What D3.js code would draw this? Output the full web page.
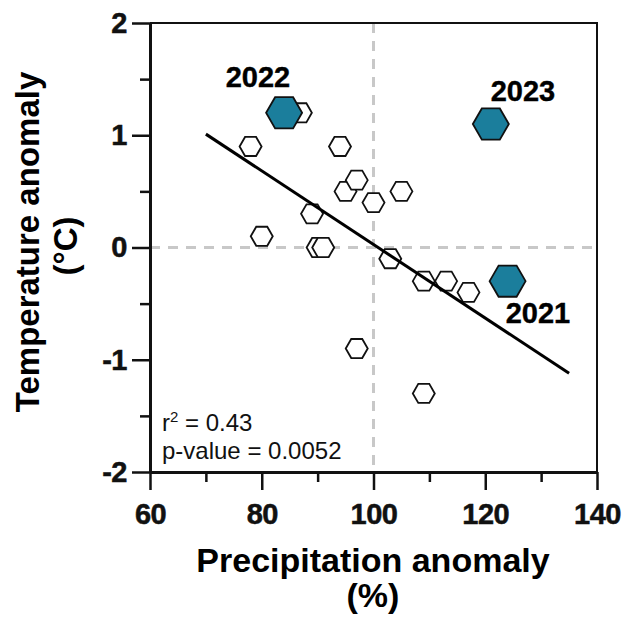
<!DOCTYPE html>
<html>
<head>
<meta charset="utf-8">
<script src="https://cdn.jsdelivr.net/npm/d3@7"></script>
<style>
  body { margin: 0; background: #fff; }
  svg { display: block; font-family: "Liberation Sans", Arial, sans-serif; }
</style>
</head>
<body>
<svg id="chart" width="624" height="618"></svg>
<script>
// open hexagons: other years (precip %, temp °C)
const otherPrecip = [78, 80, 87, 89, 90, 91, 94, 95, 97, 100, 105, 103, 109, 113, 117, 97, 109];
const otherTemp   = [0.9, 0.1, 1.2, 0.3, 0, 0, 0.9, 0.5, 0.6, 0.4, 0.5, -0.1, -0.3, -0.3, -0.4, -0.9, -1.3];

// highlighted years
const keyYears  = ["2022", "2023", "2021"];
const keyPrecip = [84, 121, 124];
const keyTemp   = [1.2, 1.1, -0.3];

// regression fit end points
const fitPrecip = [70, 135];
const fitTemp   = [1.01, -1.12];

const xTicks = [60, 80, 100, 120, 140];
const xMinor = [70, 90, 110, 130];
const yTicks = [-2, -1, 0, 1, 2];
const yMinor = [-1.5, -0.5, 0.5, 1.5];

const svg = d3.select("#chart");
const x = d3.scaleLinear().domain([60, 140]).range([150, 597]);
const y = d3.scaleLinear().domain([-2, 2]).range([472, 23]);

// flat-topped hexagon around the origin
function hexPath(r) {
    const pts = d3.range(6).map(i => [r * Math.cos(i * Math.PI / 3), r * Math.sin(i * Math.PI / 3)]);
    return d3.line()(pts) + "Z";
}

// reference lines
svg.append("line")
    .attr("x1", x(100)).attr("x2", x(100)).attr("y1", y(2)).attr("y2", y(-2))
    .attr("stroke", "#c8c8c8").attr("stroke-width", 3).attr("stroke-dasharray", "10,8");
svg.append("line")
    .attr("x1", x(60)).attr("x2", x(140)).attr("y1", y(0)).attr("y2", y(0))
    .attr("stroke", "#c8c8c8").attr("stroke-width", 3).attr("stroke-dasharray", "10,8");

// frame top/right
svg.append("path")
    .attr("d", `M${x(60)},${y(2)}H${x(140)}V${y(-2)}`)
    .attr("fill", "none").attr("stroke", "#111").attr("stroke-width", 2);

// open points
svg.append("g").selectAll("path").data(otherPrecip).enter()
    .append("path")
    .attr("d", hexPath(11))
    .attr("transform", (d, i) => `translate(${x(d)},${y(otherTemp[i])})`)
    .attr("fill", "#fff").attr("stroke", "#111").attr("stroke-width", 1.8);

// fit line
svg.append("line")
    .attr("x1", x(fitPrecip[0])).attr("y1", y(fitTemp[0]))
    .attr("x2", x(fitPrecip[1])).attr("y2", y(fitTemp[1]))
    .attr("stroke", "#000").attr("stroke-width", 3);

// highlighted years
svg.append("g").selectAll("path").data(keyPrecip).enter()
    .append("path")
    .attr("d", hexPath(18))
    .attr("transform", (d, i) => `translate(${x(d)},${y(keyTemp[i])})`)
    .attr("fill", "#1b7e9c").attr("stroke", "#111").attr("stroke-width", 1.8);

const labelPos = [[258, 87], [523, 101], [538, 323]];
svg.append("g").selectAll("text").data(keyYears).enter()
    .append("text")
    .attr("x", (d, i) => labelPos[i][0]).attr("y", (d, i) => labelPos[i][1])
    .attr("text-anchor", "middle")
    .style("font-size", "29px").style("font-weight", "700")
    .attr("stroke", "#000").attr("stroke-width", 0.4)
    .text(d => d);

// stats
const r2 = svg.append("text").attr("x", 162).attr("y", 431)
    .style("font-size", "24px").attr("fill", "#111");
r2.append("tspan").text("r");
r2.append("tspan").attr("dy", -9).style("font-size", "15px").text("2");
r2.append("tspan").attr("dy", 9).text(" = 0.43");
svg.append("text").attr("x", 162).attr("y", 459)
    .style("font-size", "24px").attr("fill", "#111")
    .text("p-value = 0.0052");

// axes
const fmt = d => String(d);
svg.append("g").attr("transform", `translate(0,${y(-2)})`)
    .call(d3.axisBottom(x).tickValues(xTicks).tickFormat(fmt).tickSize(18).tickSizeOuter(0).tickPadding(13));
svg.append("g").attr("transform", `translate(0,${y(-2)})`)
    .call(d3.axisBottom(x).tickValues(xMinor).tickSize(10).tickFormat(""))
    .call(g => g.select(".domain").remove());
svg.append("g").attr("transform", `translate(${x(60)},0)`)
    .call(d3.axisLeft(y).tickValues(yTicks).tickFormat(fmt).tickSize(18).tickSizeOuter(0).tickPadding(5));
svg.append("g").attr("transform", `translate(${x(60)},0)`)
    .call(d3.axisLeft(y).tickValues(yMinor).tickSize(10).tickFormat(""))
    .call(g => g.select(".domain").remove());

svg.selectAll(".domain").attr("stroke", "#111").attr("stroke-width", 3);
svg.selectAll(".tick line").attr("stroke", "#111").attr("stroke-width", 2.5);
svg.selectAll(".tick text")
    .attr("fill", "#111").attr("stroke", "#111").attr("stroke-width", 0.5)
    .style("font-family", "'Liberation Sans', Arial, sans-serif")
    .style("font-size", "29px").style("font-weight", "700")
    .style("letter-spacing", "-0.5px");

// axis titles
const titleSize = "34px";
svg.append("text").attr("x", 373).attr("y", 572).attr("text-anchor", "middle")
    .style("font-size", titleSize).style("font-weight", "700").text("Precipitation anomaly");
svg.append("text").attr("x", 373).attr("y", 607).attr("text-anchor", "middle")
    .style("font-size", titleSize).style("font-weight", "700").text("(%)");
svg.append("text").attr("transform", "translate(39,242) rotate(-90)").attr("text-anchor", "middle")
    .style("font-size", "33px").style("font-weight", "700").text("Temperature anomaly");
svg.append("text").attr("transform", "translate(77,246) rotate(-90)").attr("text-anchor", "middle")
    .style("font-size", "33px").style("font-weight", "700").text("(°C)");
</script>
</body>
</html>
